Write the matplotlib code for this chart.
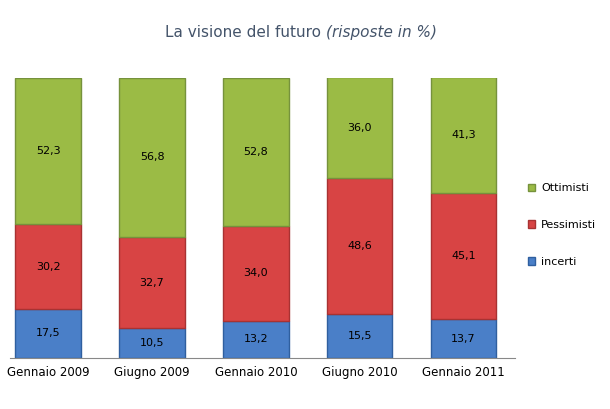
import matplotlib
matplotlib.use("Agg")
import matplotlib.pyplot as plt
from matplotlib.patches import Patch

categories = ["Gennaio 2009", "Giugno 2009", "Gennaio 2010", "Giugno 2010", "Gennaio 2011"]
incerti = [17.5, 10.5, 13.2, 15.5, 13.7]
pessimisti = [30.2, 32.7, 34.0, 48.6, 45.1]
ottimisti = [52.3, 56.8, 52.8, 36.0, 41.3]

c_blue, c_red, c_green = "#4A7FC8", "#D84444", "#9BBB45"
e_blue, e_red, e_green = "#2F5F9F", "#A83232", "#76923C"

fig = plt.figure(figsize=(6.1, 4.09), dpi=100)
ax = fig.add_axes([0.016, 0.125, 0.829, 0.685])
x = range(len(categories))
w = 0.63
ax.bar(x, incerti, w, color=c_blue, edgecolor=e_blue, lw=1)
ax.bar(x, pessimisti, w, bottom=incerti, color=c_red, edgecolor=e_red, lw=1)
bot3 = [a + b for a, b in zip(incerti, pessimisti)]
ax.bar(x, ottimisti, w, bottom=bot3, color=c_green, edgecolor=e_green, lw=1)
for i in x:
    for val, base in ((incerti[i], 0), (pessimisti[i], incerti[i]), (ottimisti[i], bot3[i])):
        ax.text(i, base + val / 2, f"{val:.1f}".replace(".", ","), ha="center", va="center", fontsize=8, color="black")
ax.set_xlim(-0.37, 4.5)
ax.set_ylim(0, 100)
ax.set_yticks([])
ax.set_xticks(list(x))
ax.set_xticklabels(categories, fontsize=8.5)
ax.tick_params(axis="x", length=0, pad=6)
for s in ["top", "right", "left"]:
    ax.spines[s].set_visible(False)
ax.spines["bottom"].set_color("#888888")

handles = [Patch(facecolor=c_green, edgecolor=e_green, label="Ottimisti"),
           Patch(facecolor=c_red, edgecolor=e_red, label="Pessimisti"),
           Patch(facecolor=c_blue, edgecolor=e_blue, label="incerti")]
fig.legend(handles=handles, loc="center left", bbox_to_anchor=(0.865, 0.45), frameon=False,
           fontsize=8, handlelength=0.7, handleheight=0.7, labelspacing=2.4, handletextpad=0.5,
           borderaxespad=0, borderpad=0)

t1 = fig.text(0.27, 0.92, "La visione del futuro ", fontsize=11, color="#44546A", ha="left", va="center")
fig.canvas.draw()
bb = t1.get_window_extent()
x2 = bb.x1 / fig.bbox.width
fig.text(x2, 0.92, "(risposte in %)", fontsize=11, color="#44546A", style="italic", ha="left", va="center")
fig.savefig("out.png", dpi=100)
